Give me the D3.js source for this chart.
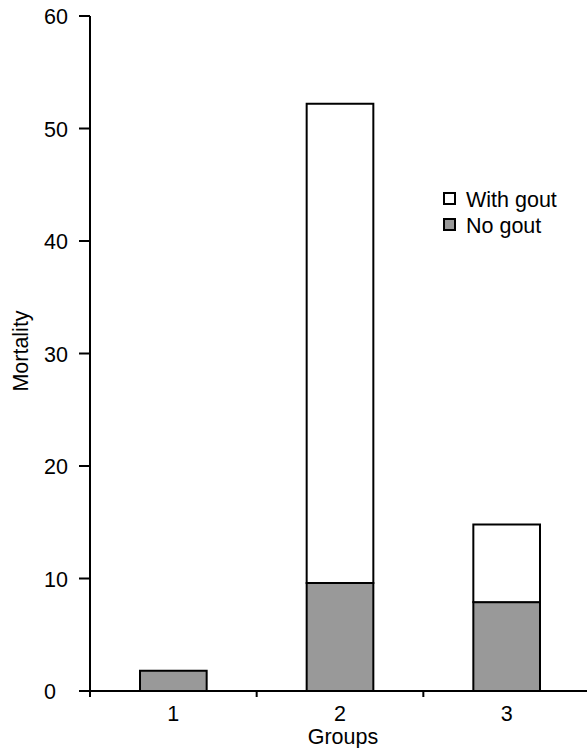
<!DOCTYPE html>
<html>
<head>
<meta charset="utf-8">
<script src="https://cdn.jsdelivr.net/npm/d3@7"></script>
<style>
  html, body { margin: 0; padding: 0; background: #fff; }
  svg { display: block; font-family: "Liberation Sans", Arial, sans-serif; }
</style>
</head>
<body>
<script>
const categories = ["1", "2", "3"];
const noGout = [1.8, 9.6, 7.9];
const withGout = [0, 42.6, 6.9];
const yTicks = [0, 10, 20, 30, 40, 50, 60];
const seriesNames = ["With gout", "No gout"];

const W = 587, H = 748;
const svg = d3.select("body").append("svg").attr("width", W).attr("height", H);

const y = d3.scaleLinear().domain([0, 60]).range([691, 16]);
const x = d3.scaleBand().domain(categories).range([90, 590]).padding(0);
const barW = x.bandwidth() * 0.4;
const fs = 21.5;

// bars
const stackData = categories.map((c, i) => ({ cat: c, noGout: noGout[i], withGout: withGout[i] }));
const stack = d3.stack().keys(["noGout", "withGout"])(stackData);
const fills = { noGout: "#999999", withGout: "#ffffff" };
stack.forEach(layer => {
  svg.append("g").selectAll("rect").data(layer.filter(d => d[1] - d[0] > 0)).join("rect")
    .attr("x", d => x(d.data.cat) + x.bandwidth() / 2 - barW / 2)
    .attr("width", barW)
    .attr("y", d => y(d[1]))
    .attr("height", d => y(d[0]) - y(d[1]))
    .attr("fill", fills[layer.key])
    .attr("stroke", "#000")
    .attr("stroke-width", 2);
});

// y axis
const ya = svg.append("g");
ya.append("line").attr("x1", 90).attr("x2", 90).attr("y1", y(60)).attr("y2", 697)
  .attr("stroke", "#000").attr("stroke-width", 2);
ya.selectAll("line.t").data(yTicks).join("line").attr("class", "t")
  .attr("x1", 79).attr("x2", 90).attr("y1", d => y(d)).attr("y2", d => y(d))
  .attr("stroke", "#000").attr("stroke-width", 2);
ya.selectAll("text").data(yTicks).join("text")
  .attr("x", 44).attr("y", d => y(d) + 8)
  .attr("font-size", fs).attr("fill", "#000")
  .text(d => d);

// x axis
const xa = svg.append("g");
xa.append("line").attr("x1", 79).attr("x2", 590).attr("y1", 691).attr("y2", 691)
  .attr("stroke", "#000").attr("stroke-width", 2);
const bounds = categories.slice(1).map(c => x(c));
xa.selectAll("line.t").data(bounds).join("line").attr("class", "t")
  .attr("x1", d => d).attr("x2", d => d).attr("y1", 691).attr("y2", 697)
  .attr("stroke", "#000").attr("stroke-width", 2);
xa.selectAll("text").data(categories).join("text")
  .attr("x", d => x(d) + x.bandwidth() / 2).attr("y", 721)
  .attr("text-anchor", "middle").attr("font-size", fs).attr("fill", "#000")
  .text(d => d);

// axis titles
svg.append("text").attr("x", 343).attr("y", 744).attr("text-anchor", "middle")
  .attr("font-size", fs).attr("fill", "#000").text("Groups");
svg.append("text").attr("transform", "translate(28,351) rotate(-90)")
  .attr("text-anchor", "middle").attr("font-size", fs).attr("fill", "#000").text("Mortality");

// legend
const leg = svg.append("g");
const legFills = ["#ffffff", "#999999"];
seriesNames.forEach((n, i) => {
  leg.append("rect").attr("x", 444).attr("y", 193 + i * 26).attr("width", 11).attr("height", 11)
    .attr("fill", legFills[i]).attr("stroke", "#000").attr("stroke-width", 2);
  leg.append("text").attr("x", 466).attr("y", 207 + i * 26)
    .attr("font-size", fs).attr("fill", "#000").text(n);
});
</script>
</body>
</html>
